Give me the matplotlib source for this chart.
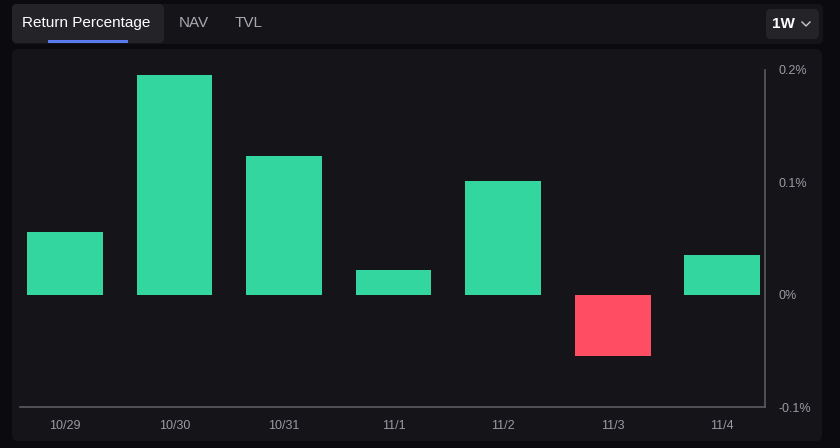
import matplotlib
matplotlib.use("Agg")
import matplotlib.pyplot as plt
from matplotlib.patches import FancyBboxPatch, Rectangle

plt.rcParams['font.family'] = ['Liberation Sans', 'DejaVu Sans']

# data (percent)
dates = ['10/29', '10/30', '10/31', '11/1', '11/2', '11/3', '11/4']
returns = [0.0554, 0.1955, 0.1232, 0.0223, 0.1009, -0.0545, 0.0357]
yticks = [-0.1, 0.0, 0.1, 0.2]
ytick_labels = ['-0.1%', '0%', '0.1%', '0.2%']
tabs = ['Return Percentage', 'NAV', 'TVL']

green = '#33d69f'
red = '#ff4d63'
bg = '#0b0b0f'
card = '#141419'
grey = '#9a9aa2'

W, H = 840, 448
fig = plt.figure(figsize=(W / 100, H / 100), dpi=100, facecolor=bg)

# background layer in pixel coords
bgax = fig.add_axes([0, 0, 1, 1])
bgax.set_xlim(0, W)
bgax.set_ylim(H, 0)
bgax.axis('off')

# tab bar
bgax.add_patch(FancyBboxPatch((12, 4), 811, 40, boxstyle='round,pad=0,rounding_size=5',
                              fc=card, ec='none'))
bgax.add_patch(FancyBboxPatch((12, 4), 152, 39, boxstyle='round,pad=0,rounding_size=5',
                              fc='#232328', ec='none'))
bgax.add_patch(Rectangle((48, 40), 80, 3, fc='#5b7cf0', ec='none'))
bgax.text(22, 23, tabs[0], color='white', fontsize=11, va='center', ha='left')
bgax.text(179, 23, tabs[1], color='#a8a8b0', fontsize=11, va='center', ha='left')
bgax.text(235, 23, tabs[2], color='#a8a8b0', fontsize=11, va='center', ha='left')

# period selector
bgax.add_patch(FancyBboxPatch((766, 9), 53, 30, boxstyle='round,pad=0,rounding_size=5',
                              fc='#232328', ec='none'))
bgax.text(772, 24, '1W', color='white', fontsize=11, fontweight='bold', va='center', ha='left')
bgax.plot([802, 806, 810], [22, 26, 22], color='#c8c8d0', lw=1)

# chart card
bgax.add_patch(FancyBboxPatch((12, 49), 810, 392, boxstyle='round,pad=0,rounding_size=6',
                              fc=card, ec='none'))

# bar chart
ax = fig.add_axes([20 / W, (H - 407) / H, (765 - 20) / W, (407 - 70) / H])
ax.set_facecolor('none')
x = range(len(dates))
colors = [green if v >= 0 else red for v in returns]
ax.bar(x, returns, width=0.69, color=colors)
ax.set_xlim(-0.41, 6.39)
ax.set_ylim(-0.1, 0.2)

ax.set_xticks(list(x))
ax.set_xticklabels(dates)
ax.yaxis.tick_right()
ax.set_yticks(yticks)
ax.set_yticklabels(ytick_labels)
ax.tick_params(axis='both', length=0, colors=grey, labelsize=9)
ax.tick_params(axis='x', pad=9)
ax.tick_params(axis='y', pad=10)

for s in ['top', 'left']:
    ax.spines[s].set_visible(False)
for s in ['bottom', 'right']:
    ax.spines[s].set_color('#5a5a60')
    ax.spines[s].set_linewidth(1.2)

fig.savefig('out.png', dpi=100, facecolor=bg)
